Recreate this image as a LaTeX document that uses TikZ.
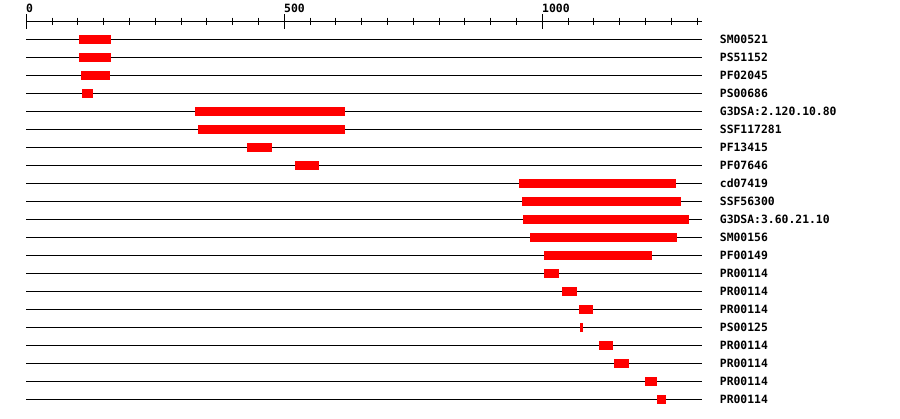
\documentclass[tikz,border=0pt]{standalone}
\usepackage{fontspec}
\setmonofont{DejaVu Sans Mono}
\definecolor{hitred}{RGB}{255,0,0}
\tikzset{
  lab/.style={font=\ttfamily\bfseries\fontsize{11.4}{12}\selectfont, inner sep=0pt, text=black},
  trackline/.style={draw=black, line width=1pt},
  hitbox/.style={fill=hitred},
  ticklines/.style={draw=black, line width=1pt}
}
\begin{document}
\begin{tikzpicture}[x=1pt,y=-1pt]
\useasboundingbox[fill=white] (0,0) rectangle (900,418);
% axis
\coordinate (axL) at (26.3,21.3);
\coordinate (axR) at (701.7,21.3);
\draw[ticklines] (axL) -- (axR);
\foreach \u in {0,50,...,1300}{
  \pgfmathsetmacro{\xx}{26.3+0.516*\u}
  \draw[ticklines] (\xx,17.7) -- (\xx,25);
}
\foreach \u/\t in {0/0,500/500,1000/1000}{
  \pgfmathsetmacro{\xx}{26.3+0.516*\u}
  \draw[ticklines] (\xx,14) -- (\xx,29);
  \node[lab, anchor=base west] (ax\u) at (\xx-0.3,12) {\t};
}
% tracks
\foreach \i/\a/\b/\t in {
  1/79/111/SM00521,
  2/79/111/PS51152,
  3/81/110/PF02045,
  4/82/93/PS00686,
  5/195/345/G3DSA:2.120.10.80,
  6/198/345/SSF117281,
  7/247/272/PF13415,
  8/295/319/PF07646,
  9/519/676/cd07419,
  10/522/681/SSF56300,
  11/523/689/G3DSA:3.60.21.10,
  12/530/677/SM00156,
  13/544/652/PF00149,
  14/544/559/PR00114,
  15/562/577/PR00114,
  16/579/593/PR00114,
  17/580/583/PS00125,
  18/599/613/PR00114,
  19/614/629/PR00114,
  20/645/657/PR00114,
  21/657/666/PR00114}{
  \pgfmathsetmacro{\yy}{39.3+18*(\i-1)}
  \coordinate (s\i) at (26.3,\yy);
  \coordinate (e\i) at (701.7,\yy);
  \draw[trackline] (s\i) -- (e\i);
  \fill[hitbox] (\a,\yy-4.5) rectangle (\b,\yy+4.5);
  \node[lab, anchor=west] (t\i) at (719.7,\yy) {\t};
}
\end{tikzpicture}
\end{document}
